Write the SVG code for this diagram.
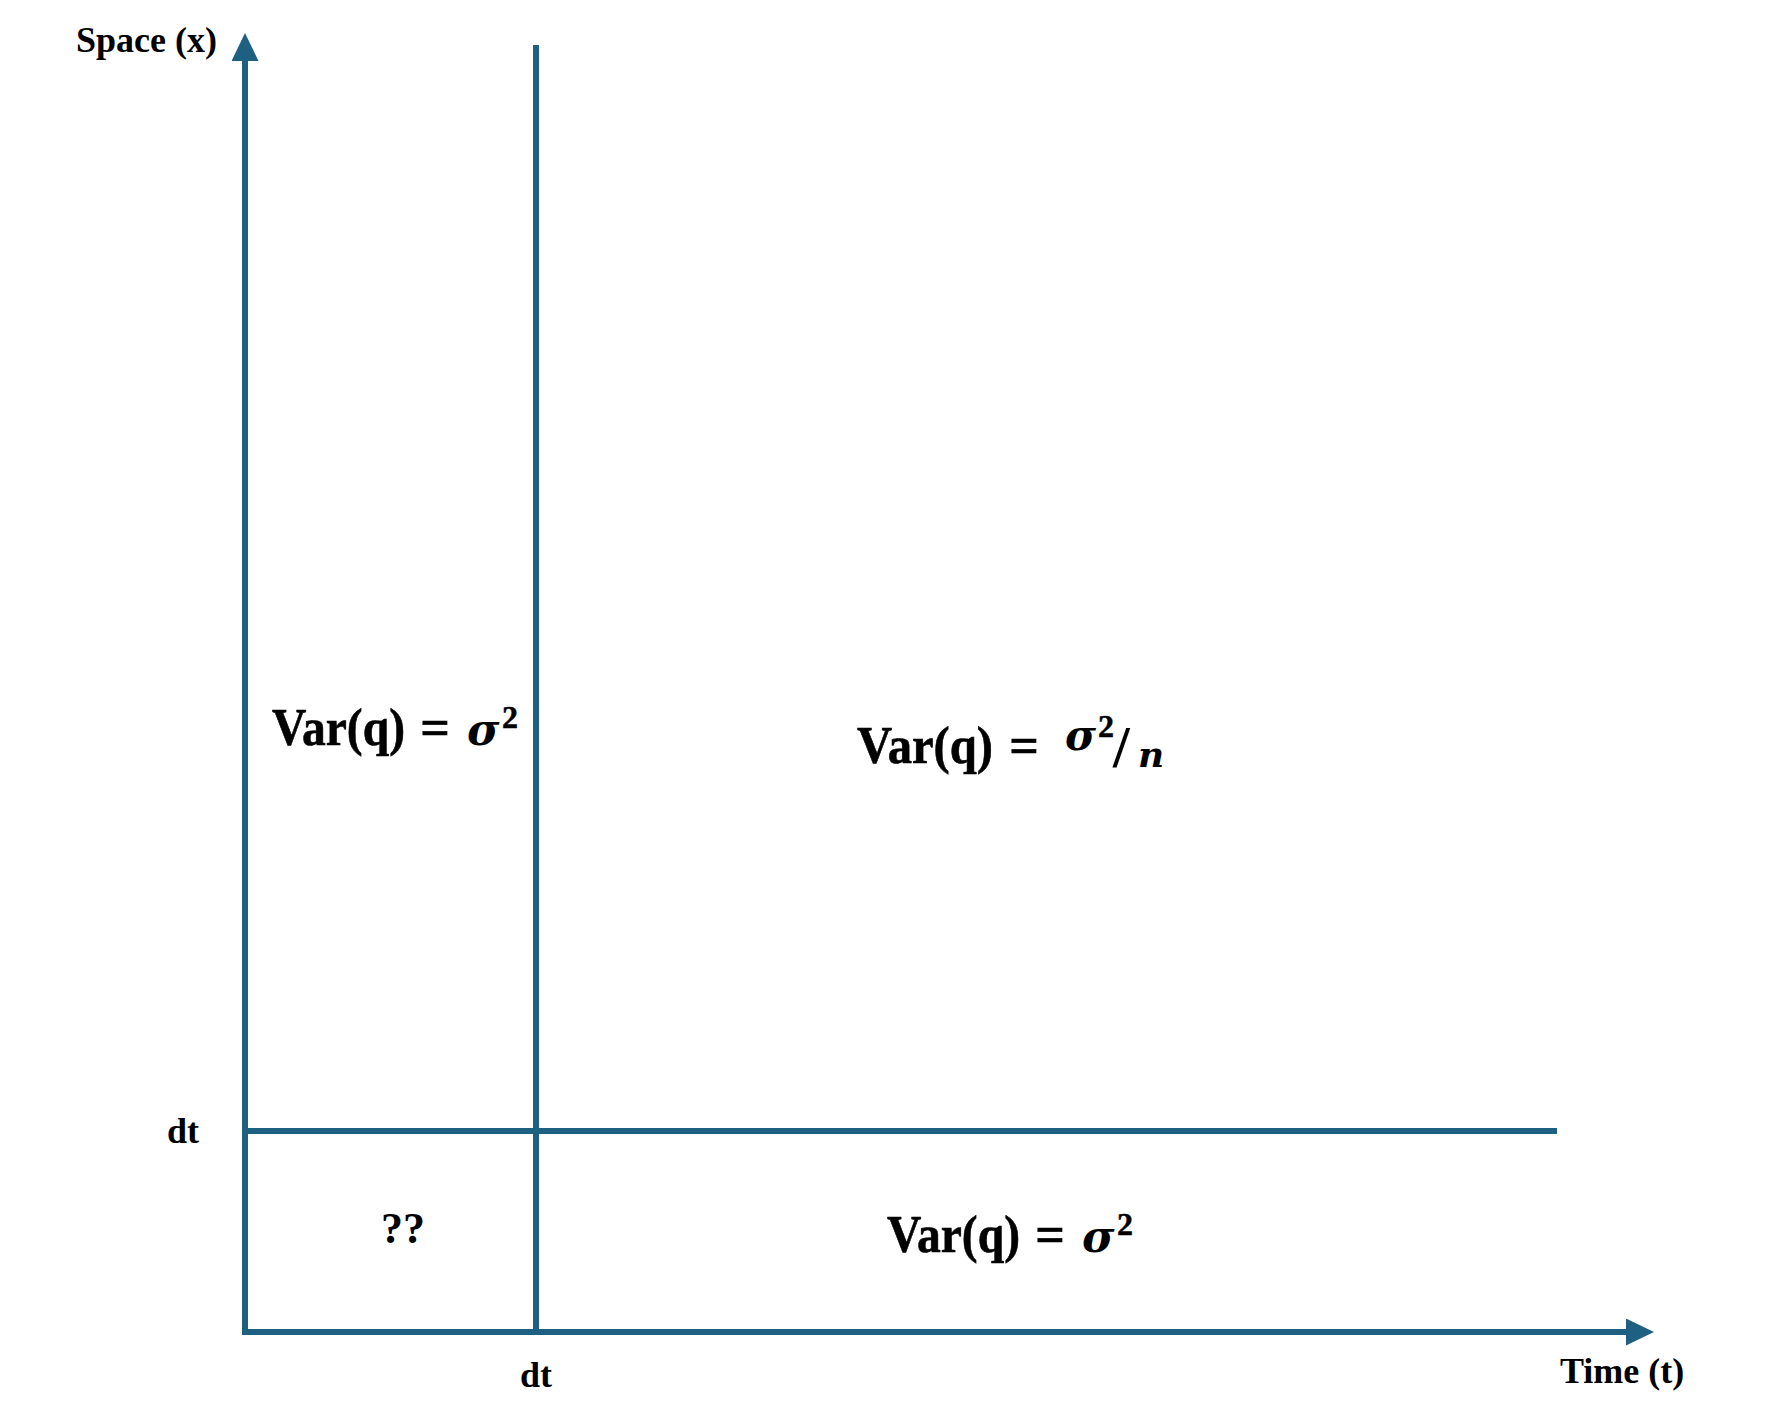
<svg xmlns="http://www.w3.org/2000/svg" width="1769" height="1420" viewBox="0 0 1769 1420">
<style>
.ln{stroke:#1d6082;stroke-width:6;fill:none}
.lbl{font-family:"Liberation Serif","Times New Roman",serif;font-weight:bold;font-size:36px;fill:#000}
.f{font-family:"Liberation Serif","Times New Roman",serif;font-weight:bold;font-size:52px;fill:#000;stroke:#000;stroke-width:0.6}
.fi{font-family:"DejaVu Serif",serif;font-weight:bold;font-style:italic;font-size:44px;fill:#000}
.sup{font-family:"Liberation Serif","Times New Roman",serif;font-weight:bold;font-size:32px;fill:#000;stroke:#000;stroke-width:0.5}
</style>
<defs>
<marker id="ah" markerUnits="userSpaceOnUse" markerWidth="28" markerHeight="27" refX="0" refY="13.5" orient="auto" viewBox="0 0 28 27">
<path d="M0,0 L28,13.5 L0,27 z" fill="#1d6082"/>
</marker>
</defs>
<rect width="1769" height="1420" fill="#fff"/>
<g id="connectors">
<line class="ln" x1="245" y1="1335" x2="245" y2="61" marker-end="url(#ah)"/>
<line class="ln" x1="242" y1="1332" x2="1626" y2="1332" marker-end="url(#ah)"/>
<line class="ln" x1="536" y1="45" x2="536" y2="1332"/>
<line class="ln" x1="245" y1="1131" x2="1557" y2="1131"/>
</g>
<g id="label-space"><text class="lbl" x="76" y="52">Space (x)</text></g>
<g id="label-time"><text class="lbl" x="1560" y="1383">Time (t)</text></g>
<g id="label-dt-y"><text class="lbl" x="167" y="1143">dt</text></g>
<g id="label-dt-x"><text class="lbl" x="520" y="1387">dt</text></g>
<g id="region-unknown"><text class="lbl" x="381" y="1243" style="font-size:44px">??</text></g>
<g id="region-top-left">
<text class="f" x="272" y="745" textLength="133" lengthAdjust="spacingAndGlyphs">Var(q)</text>
<text class="f" x="435" y="745" text-anchor="middle">=</text>
<text class="fi" x="467" y="745">σ</text>
<text class="sup" x="502" y="728">2</text>
</g>
<g id="region-top-right">
<text class="f" x="857" y="763" textLength="136" lengthAdjust="spacingAndGlyphs">Var(q)</text>
<text class="f" x="1024" y="763" text-anchor="middle">=</text>
<text class="fi" x="1065" y="750" style="font-size:42px">σ</text>
<text class="sup" x="1098" y="737">2</text>
<text class="f" x="1113" y="767" style="font-size:60px;stroke-width:0">/</text>
<text class="fi" x="1138" y="767" style="font-size:36px">n</text>
</g>
<g id="region-bottom-right">
<text class="f" x="887" y="1252" textLength="133" lengthAdjust="spacingAndGlyphs">Var(q)</text>
<text class="f" x="1050" y="1252" text-anchor="middle">=</text>
<text class="fi" x="1082" y="1252">σ</text>
<text class="sup" x="1117" y="1235">2</text>
</g>
</svg>
